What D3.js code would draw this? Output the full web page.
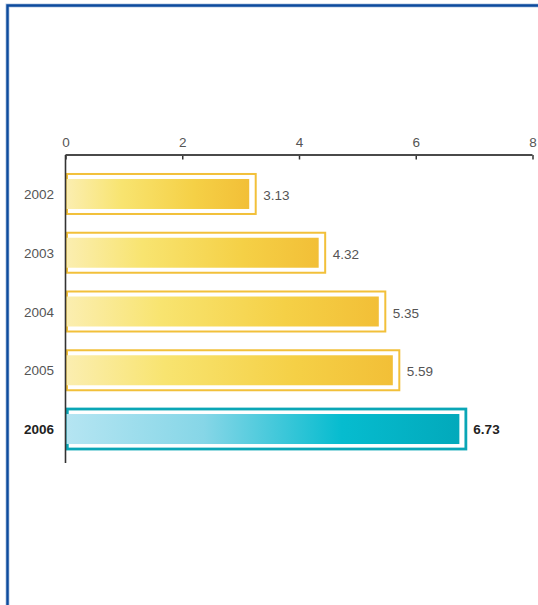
<!DOCTYPE html>
<html>
<head>
<meta charset="utf-8">
<script src="https://cdn.jsdelivr.net/npm/d3@7"></script>
<style>
  body { margin: 0; background: #fff; }
  svg { display: block; font-family: "Liberation Sans", Arial, sans-serif; }
</style>
</head>
<body>
<svg id="chart" width="538" height="605"></svg>
<script>
const years = ["2002", "2003", "2004", "2005", "2006"]
const values = [3.13, 4.32, 5.35, 5.59, 6.73]
const xTicks = [0, 2, 4, 6, 8]
const highlightYear = "2006"

const config = {
  margin: { top: 155, left: 65.5 },
  plotWidth: 467,
  bandTop: 164.6,
  bandBottom: 458.4
}

const svg = d3.select("#chart")

// frame on the page
svg.append("path")
  .attr("d", "M7.5,605 V5.5 H538")
  .attr("fill", "none")
  .attr("stroke", "#b9cbe4")
  .attr("stroke-width", 4)
svg.append("path")
  .attr("d", "M7.5,605 V5.5 H538")
  .attr("fill", "none")
  .attr("stroke", "#0d4b9d")
  .attr("stroke-width", 2.4)

const xScale = d3.scaleLinear()
  .domain([0, 8])
  .range([config.margin.left, config.margin.left + config.plotWidth])

const yScale = d3.scaleBand()
  .domain(years)
  .range([config.bandTop, config.bandBottom])

const defs = svg.append("defs")

function addGradient (id, stops) {
  const g = defs.append("linearGradient")
    .attr("id", id)
    .attr("x1", "0%").attr("x2", "100%")
    .attr("y1", "0%").attr("y2", "0%")
  stops.forEach(s => {
    g.append("stop").attr("offset", s[0]).attr("stop-color", s[1])
  })
}
addGradient("grad-yellow", [["0%", "#fbeeb0"], ["30%", "#f8e470"], ["70%", "#f5d046"], ["100%", "#f2bf37"]])
addGradient("grad-teal", [["0%", "#b5e5f2"], ["35%", "#86d6e7"], ["70%", "#06bccf"], ["100%", "#02a9bb"]])

const rows = years.map((y, i) => ({ year: y, value: values[i], hi: y === highlightYear }))
const mid = d => yScale(d.year) + yScale.bandwidth() / 2

const bars = svg.append("g").attr("class", "bars")
  .selectAll("g")
  .data(rows)
  .join("g")

// outer frame
bars.append("rect")
  .attr("x", d => xScale(0) + (d.hi ? 1.8 : 1.5))
  .attr("y", d => mid(d) - 20)
  .attr("width", d => xScale(d.value) + 7.5 - xScale(0) - (d.hi ? 1.8 : 1.5))
  .attr("height", 40)
  .attr("fill", "none")
  .attr("stroke", d => d.hi ? "#0aa6b6" : "#f2c03a")
  .attr("stroke-width", d => d.hi ? 2.8 : 2)

// inner bar
bars.append("rect")
  .attr("x", xScale(0) + 1)
  .attr("y", d => mid(d) - 15)
  .attr("width", d => xScale(d.value) + 1 - xScale(0) - 1)
  .attr("height", 30)
  .attr("fill", d => d.hi ? "url(#grad-teal)" : "url(#grad-yellow)")

// value labels
bars.append("text")
  .attr("x", d => xScale(d.value) + 15)
  .attr("y", d => mid(d) + (d.hi ? 5 : 6))
  .attr("font-size", 13.5)
  .attr("font-weight", d => d.hi ? "bold" : "normal")
  .attr("fill", d => d.hi ? "#222" : "#555")
  .text(d => d.value.toFixed(2))

// year labels
svg.append("g").attr("class", "years")
  .selectAll("text")
  .data(rows)
  .join("text")
  .attr("x", 54)
  .attr("y", d => mid(d) + 5)
  .attr("text-anchor", "end")
  .attr("font-size", 13.5)
  .attr("font-weight", d => d.hi ? "bold" : "normal")
  .attr("fill", d => d.hi ? "#222" : "#555")
  .text(d => d.year)

// top axis: line with ticks pointing down, labels above
const xAxis = d3.axisTop(xScale)
  .tickValues(xTicks)
  .tickSize(0)
  .tickPadding(8)
  .tickFormat(d3.format("d"))

const axisG = svg.append("g")
  .attr("transform", `translate(0, ${config.margin.top})`)
  .call(xAxis)
axisG.select(".domain").remove()
axisG.selectAll("text")
  .attr("font-family", "Liberation Sans, Arial, sans-serif")
  .attr("font-size", 13.5)
  .attr("fill", "#555")

axisG.append("line")
  .attr("x1", xScale(0)).attr("x2", xScale(8))
  .attr("y1", 0).attr("y2", 0)
  .attr("stroke", "#4a4a4a")
  .attr("stroke-width", 2)
axisG.selectAll(".tick").append("line")
  .attr("y1", 0).attr("y2", 4.5)
  .attr("stroke", "#333")
  .attr("stroke-width", 1.5)

// vertical axis
svg.append("line")
  .attr("x1", xScale(0)).attr("x2", xScale(0))
  .attr("y1", config.margin.top).attr("y2", 463)
  .attr("stroke", "#333")
  .attr("stroke-width", 1.6)
</script>
</body>
</html>
